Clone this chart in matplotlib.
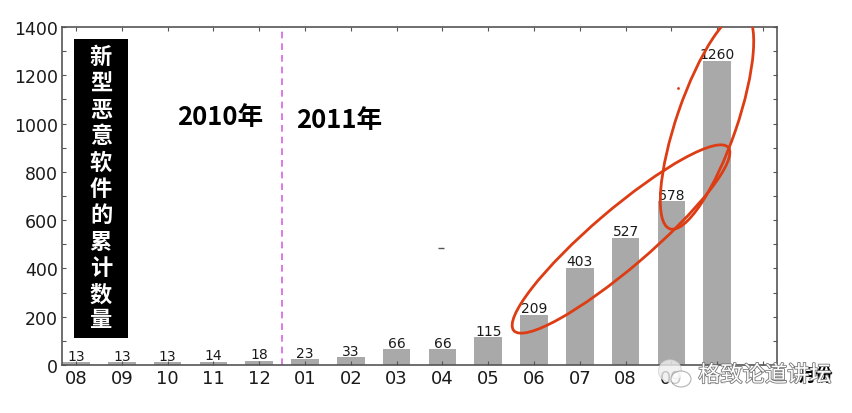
import matplotlib
matplotlib.use('Agg')
import matplotlib.pyplot as plt
import matplotlib.patches as patches
import matplotlib.patheffects as pe

plt.rcParams['font.family'] = ['DejaVu Sans', 'Noto Sans CJK SC']
cjk = ['Noto Sans CJK SC', 'DejaVu Sans']

months = ['08', '09', '10', '11', '12', '01', '02', '03', '04', '05', '06', '07', '08', '09', '10']
counts = [13, 13, 13, 14, 18, 23, 33, 66, 66, 115, 209, 403, 527, 678, 1260]
y_labels = [0, 200, 400, 600, 800, 1000, 1200, 1400]
y_title = '新型恶意软件的累计数量'

text_color = '#1a1a1a'
frame_color = '#555555'
red = '#dd3d14'

fig = plt.figure(figsize=(8.52, 4.14), dpi=100)
ax = fig.add_axes([62 / 852, (414 - 366) / 414, 715 / 852, 338 / 414])

x = list(range(len(counts)))
bars = ax.bar(x, counts, width=0.6, color='#a9a9a9', edgecolor='none')
ax.bar_label(bars, labels=[str(c) for c in counts], fontsize=10, color=text_color, padding=-0.5)

ax.axvline(4.49, color='#d663e0', lw=1.2, ls=(0, (4, 3)))

ax.set_xlim(-0.306, 15.306)
ax.set_ylim(0, 1400)
ax.set_xticks(x + [15])
ax.set_xticklabels(months + [''], fontsize=13, color=text_color)
ax.set_yticks(range(0, 1500, 100))
ax.set_yticklabels([str(v) if v in y_labels else '' for v in range(0, 1500, 100)],
                   fontsize=12.5, color=text_color)
ax.tick_params(direction='in', top=True, right=True, length=3, width=0.8,
               color=frame_color, pad=3)
for s in ax.spines.values():
    s.set_color(frame_color)
    s.set_linewidth(1.2)

# overlay in pixel coords for the hand-drawn annotations
ov = fig.add_axes([0, 0, 1, 1], facecolor='none')
ov.set_xlim(0, 852)
ov.set_ylim(414, 0)
ov.axis('off')

ov.add_patch(patches.Rectangle((74, 39.5), 54, 299, color='black', lw=0))
for i, ch in enumerate(y_title):
    ov.text(101, 58 + i * 26.3, ch, color='white', fontsize=16, fontweight='bold',
            family=cjk, ha='center', va='center')

ov.text(220.5, 118, '2010年', fontsize=18.5, fontweight='bold', family=cjk, ha='center', va='center', color='black')
ov.text(339.5, 121, '2011年', fontsize=18.5, fontweight='bold', family=cjk, ha='center', va='center', color='black')

ov.add_patch(patches.Ellipse((621, 240), 282, 58, angle=-40.5, fill=False, ec=red, lw=2))
clip = patches.Rectangle((0, 28), 852, 386, transform=ov.transData)
e2 = patches.Ellipse((707, 122), 228, 60, angle=-71, fill=False, ec=red, lw=2)
ov.add_patch(e2)
e2.set_clip_path(clip)
ov.plot([677.5], [88.5], marker='o', ms=1, color=red)
ov.plot([441], [249], marker='_', ms=4, color='#555555')

# watermark
ov.add_patch(patches.Rectangle((697, 368), 103, 18, fc='white', alpha=0.9, lw=0))
ov.text(816, 376, '月份', fontsize=12.5, fontweight='bold', family=cjk, ha='center', va='center', color='black')
ov.add_patch(patches.Ellipse((670, 372), 23, 22, fc='#eeeeee', ec='#d5d5d5', lw=0.8, alpha=0.8))
ov.add_patch(patches.Ellipse((681, 380), 20, 16, fc='white', ec='#999999', lw=0.8, alpha=0.75))
ov.text(765, 376, '格致论道讲坛', fontsize=16, family=cjk, ha='center', va='center', color='white',
        path_effects=[pe.withStroke(linewidth=1.2, foreground='#777777')])

fig.savefig('out.png', dpi=100)
